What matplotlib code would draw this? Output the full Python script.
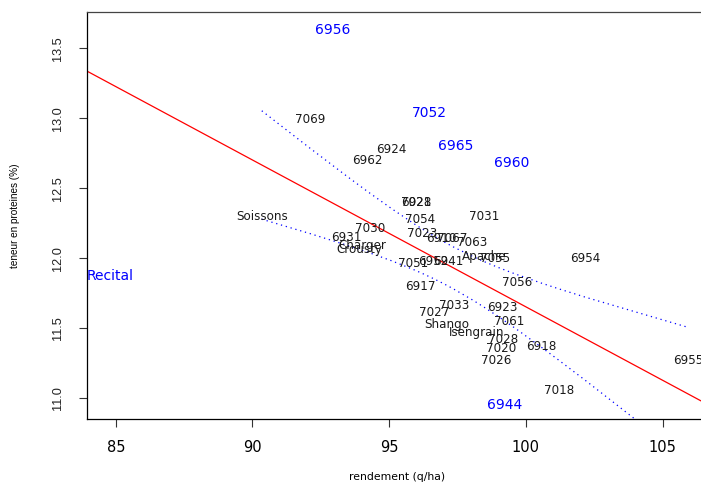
import numpy as np
import matplotlib
matplotlib.use("Agg")
import matplotlib.pyplot as plt
from matplotlib.ticker import FormatStrFormatter

# lignées utilisées pour la régression (en noir)
noms = ["7069", "6924", "6962", "6928", "7021", "7054", "7031", "7023",
        "6910", "7067", "7063", "Apache", "7055", "7051", "6952", "6941",
        "6954", "7056", "6917", "7033", "7027", "6923", "7061", "Shango",
        "Isengrain", "7028", "7020", "6918", "7026", "7018", "6955",
        "Soissons", "7030", "6931", "Charger", "Crousty"]
rendement = [92.12, 95.09, 94.19, 95.98, 96.00, 96.13, 98.49, 96.20,
             96.92, 97.29, 98.04, 98.48, 98.87, 95.88, 96.61, 97.15,
             102.17, 99.69, 96.14, 97.36, 96.66, 99.13, 99.40, 97.09,
             98.20, 99.16, 99.10, 100.56, 98.90, 101.20, 105.92,
             90.34, 94.31, 93.42, 94.02, 93.89]
proteines = [12.99, 12.78, 12.70, 12.40, 12.40, 12.28, 12.30, 12.18,
             12.14, 12.14, 12.11, 12.01, 11.995, 11.96, 11.976, 11.98,
             12.00, 11.83, 11.80, 11.66, 11.61, 11.65, 11.55, 11.53,
             11.47, 11.42, 11.355, 11.37, 11.27, 11.055, 11.27,
             12.30, 12.21, 12.15, 12.09, 12.06]

# lignées écartées (en bleu)
noms_hors = ["6956", "7052", "6965", "6960", "Recital", "6944"]
rendement_hors = [92.94, 96.46, 97.44, 99.49, 84.81, 99.24]
proteines_hors = [13.63, 13.04, 12.80, 12.68, 11.87, 10.95]

x_ticks = [85, 90, 95, 100, 105]
y_ticks = [11.0, 11.5, 12.0, 12.5, 13.0, 13.5]
T_995 = 2.728  # quantile de Student à 34 ddl (intervalle à 99 %)


def main():
    x = np.array(rendement)
    y = np.array(proteines)
    n = len(x)
    b, a = np.polyfit(x, y, 1)
    res = y - (a + b * x)
    s = np.sqrt((res ** 2).sum() / (n - 2))
    xs = np.sort(x)
    se = s * np.sqrt(1 / n + (xs - x.mean()) ** 2 / ((x - x.mean()) ** 2).sum())
    fit = a + b * xs

    fig = plt.figure(figsize=(7.01, 4.82), dpi=100)
    ax = fig.add_axes([0.1234, 0.1301, 0.8866, 0.8444])
    ax.set_xlim(83.93, 106.66)
    ax.set_ylim(10.85, 13.757)

    ax.axline((0, a), slope=b, color="red", lw=0.9)
    ax.plot(xs, fit + T_995 * se, color="blue", lw=0.9, ls=(0, (1, 3)))
    ax.plot(xs, fit - T_995 * se, color="blue", lw=0.9, ls=(0, (1, 3)))

    for nom, xi, yi in zip(noms, rendement, proteines):
        ax.text(xi, yi, nom, ha="center", va="center", fontsize=8.6,
                color="#1a1a1a")
    for nom, xi, yi in zip(noms_hors, rendement_hors, proteines_hors):
        ax.text(xi, yi, nom, ha="center", va="center", fontsize=10,
                color="blue")

    ax.set_xticks(x_ticks)
    ax.set_yticks(y_ticks)
    ax.yaxis.set_major_formatter(FormatStrFormatter("%.1f"))
    ax.tick_params(direction="out", length=6, width=0.8, colors="#333333")
    ax.tick_params(axis="x", pad=9, labelsize=10.5, labelcolor="black")
    ax.tick_params(axis="y", pad=10, labelcolor="#222222")
    for lab in ax.get_yticklabels():
        lab.set_rotation(90)
        lab.set_va("center")
        lab.set_fontfamily("Liberation Sans")
        lab.set_fontsize(9.2)

    for side in ["left", "bottom", "top", "right"]:
        ax.spines[side].set_linewidth(0.9)
    ax.spines["top"].set_color("#444444")

    ax.set_xlabel("rendement (q/ha)", fontsize=7.8, va="center")
    ax.xaxis.set_label_coords(0.5, -0.1418)
    ax.set_ylabel("teneur en proteines (%)", fontsize=7.2, va="center",
                  family="Liberation Sans")
    ax.yaxis.set_label_coords(-0.115, 0.5)

    fig.savefig("out.png", dpi=100)


main()
